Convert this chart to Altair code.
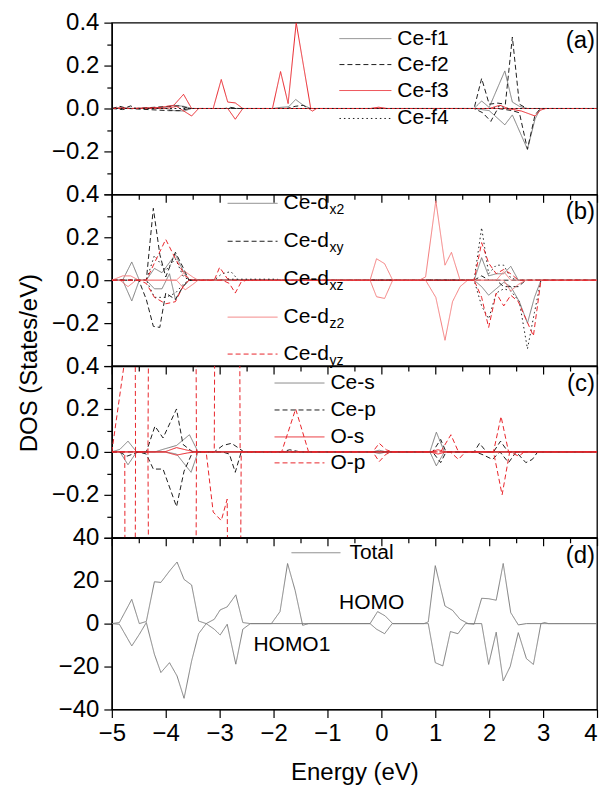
import altair as alt
import pandas as pd

FONT = "Liberation Sans"
W, H = 486, 172

# ---------------- tick values ----------------
x_ticks = [-5, -4.5, -4, -3.5, -3, -2.5, -2, -1.5, -1, -0.5, 0, 0.5, 1, 1.5, 2, 2.5, 3, 3.5, 4]
pdos_ticks = [-0.4, -0.3, -0.2, -0.1, 0.0, 0.1, 0.2, 0.3, 0.4]
total_ticks = [-40, -30, -20, -10, 0, 10, 20, 30, 40]

# ---------------- panel (a): Ce f orbitals (energy, DOS) ----------------
ce_f1_up = [(-5, 0), (-4.8, 0.003), (-4.6, 0), (-4.0, 0.005), (-3.85, 0.015), (-3.66, 0.01), (-3.52, 0),
            (-2.0, 0), (-1.88, 0.005), (-1.72, 0.008), (-1.59, 0.042), (-1.45, 0.015), (-1.31, 0),
            (1.72, 0), (1.86, 0.035), (2.0, 0.005), (2.29, 0.175), (2.43, 0.03), (2.56, 0.01), (2.7, 0), (4, 0)]
ce_f1_dn = [(-5, 0), (-4.0, 0), (-3.85, -0.01), (-3.66, -0.012), (-3.52, 0), (1.72, 0), (1.86, -0.005),
            (2.0, -0.01), (2.29, -0.076), (2.43, -0.03), (2.71, -0.19), (2.85, -0.05), (2.95, 0), (4, 0)]
ce_f2_up = [(-5, 0), (-4.85, 0.01), (-4.75, 0.003), (-4.65, 0.012), (-4.55, 0), (-3.95, 0.01), (-3.75, 0.012),
            (-3.55, 0), (-2.9, 0), (-2.8, 0.005), (-2.65, 0), (-1.75, 0), (-1.6, 0.01), (-1.45, 0.015),
            (-1.35, 0), (1.72, 0), (1.86, 0.14), (2.0, 0.02), (2.16, 0.025), (2.3, 0.02), (2.43, 0.333),
            (2.56, 0.02), (2.7, 0), (4, 0)]
ce_f2_dn = [(-5, 0), (-4.8, -0.005), (-4.7, 0), (-3.95, -0.01), (-3.75, -0.01), (-3.55, 0), (1.72, 0),
            (1.88, -0.02), (2.03, -0.06), (2.16, 0), (2.43, -0.01), (2.56, -0.02), (2.71, -0.19),
            (2.85, -0.03), (2.95, 0), (4, 0)]
ce_f3_up = [(-5, 0), (-4.85, 0.003), (-4.65, 0), (-4.1, 0.005), (-3.85, 0.015), (-3.67, 0.066), (-3.52, 0),
            (-3.12, 0), (-2.97, 0.135), (-2.85, 0.03), (-2.71, 0.026), (-2.57, 0), (-2.02, 0),
            (-1.87, 0.172), (-1.73, 0.023), (-1.58, 0.4), (-1.31, 0), (-0.2, 0), (-0.05, 0.006),
            (0.1, 0), (2.0, 0), (2.2, 0.015), (2.35, 0), (4, 0)]
ce_f3_dn = [(-5, 0), (-3.99, 0), (-3.8, 0.01), (-3.52, -0.035), (-3.39, 0), (-2.85, 0), (-2.71, -0.05),
            (-2.57, 0), (-1.35, 0), (-1.28, -0.012), (-1.2, 0), (2.3, 0), (2.45, -0.005), (2.6, -0.012),
            (2.85, -0.035), (2.95, -0.008), (3.05, 0), (4, 0)]
ce_f4_up = [(-5, 0), (2.05, 0), (2.2, 0.01), (2.35, 0), (4, 0)]
ce_f4_dn = [(-5, 0), (4, 0)]

# ---------------- panel (b): Ce d orbitals ----------------
ce_dx2_up = [(-5, 0), (-4.8, 0), (-4.63, 0.085), (-4.49, 0), (-4.36, 0), (-4.21, 0.055), (-4.07, 0.035),
             (-3.82, 0.12), (-3.68, 0.045), (-3.57, 0), (1.72, 0), (1.86, 0.105), (1.99, 0.02),
             (2.13, 0.03), (2.27, 0.03), (2.40, 0.065), (2.54, 0), (4, 0)]
ce_dx2_dn = [(-5, 0), (-4.8, 0), (-4.63, -0.097), (-4.49, 0), (-4.36, 0), (-4.21, -0.04), (-4.07, -0.04),
             (-3.93, 0.03), (-3.82, -0.09), (-3.68, -0.03), (-3.57, 0), (1.72, 0), (1.86, -0.03),
             (1.99, -0.07), (2.13, -0.04), (2.27, -0.01), (2.40, -0.03), (2.56, -0.1), (2.71, -0.2),
             (2.84, -0.08), (2.96, 0), (4, 0)]
ce_dxy_up = [(-5, 0), (-4.36, 0), (-4.23, 0.335), (-4.11, 0.12), (-4.0, 0.015), (-3.82, 0.13),
             (-3.68, 0.06), (-3.57, 0), (1.72, 0), (1.86, 0.02), (2.0, 0), (4, 0)]
ce_dxy_dn = [(-5, 0), (-4.5, 0), (-4.36, -0.09), (-4.23, -0.215), (-4.11, -0.22), (-4.0, -0.06),
             (-3.82, -0.09), (-3.68, -0.03), (-3.57, 0), (2.13, 0), (2.27, -0.03), (2.54, -0.03),
             (2.68, 0), (4, 0)]
ce_dxz_up = [(-5, 0), (-4.36, 0), (-4.21, 0.115), (-4.0, 0.045), (-3.82, 0.1), (-3.68, 0.02), (-3.57, 0),
             (-3.1, 0), (-2.96, 0.03), (-2.79, 0.04), (-2.65, 0), (1.72, 0), (1.86, 0.245), (1.99, 0.03),
             (2.13, 0.07), (2.27, 0.07), (2.40, 0.01), (2.54, 0), (4, 0)]
ce_dxz_dn = [(-5, 0), (-4.36, 0), (-4.21, -0.08), (-4.0, -0.08), (-3.82, -0.06), (-3.68, -0.02),
             (-3.57, 0), (1.72, 0), (1.86, -0.12), (1.99, -0.18), (2.13, -0.06), (2.27, -0.04),
             (2.40, -0.05), (2.56, -0.1), (2.71, -0.32), (2.84, -0.15), (2.96, 0), (4, 0)]
ce_dz2_up = [(-5, 0), (-4.8, 0.02), (-4.65, 0.02), (-4.5, 0), (-3.8, 0), (-3.64, 0.04), (-3.5, 0.015),
             (-3.4, 0), (-0.21, 0), (-0.09, 0.1), (0.06, 0.077), (0.21, 0), (0.7, 0), (0.82, 0.015),
             (1.01, 0.37), (1.18, 0.07), (1.3, 0.13), (1.46, 0), (2.13, 0), (2.27, 0.04), (2.4, 0), (4, 0)]
ce_dz2_dn = [(-5, 0), (-4.85, 0), (-4.7, -0.03), (-4.55, 0), (-3.8, 0), (-3.64, -0.045), (-3.5, -0.02),
             (-3.4, 0), (-0.21, 0), (-0.09, -0.077), (0.06, -0.085), (0.21, 0), (0.82, 0), (1.01, -0.08),
             (1.18, -0.28), (1.32, -0.1), (1.46, -0.03), (1.6, 0), (2.27, 0), (2.4, -0.05), (2.54, -0.02),
             (2.68, 0), (4, 0)]
ce_dyz_up = [(-5, 0), (-4.36, 0), (-4.21, 0.08), (-4.0, 0.19), (-3.82, 0.1), (-3.64, 0.02), (-3.5, 0),
             (-3.1, 0), (-3.0, 0.06), (-2.86, 0.008), (-2.75, 0), (1.72, 0), (1.86, 0.175), (1.99, 0.08),
             (2.13, 0.03), (2.27, 0.05), (2.40, 0.03), (2.54, 0), (4, 0)]
ce_dyz_dn = [(-5, 0), (-4.5, 0), (-4.36, -0.015), (-4.21, -0.08), (-4.0, -0.11), (-3.82, -0.1),
             (-3.68, -0.03), (-3.57, 0), (-2.95, 0), (-2.82, -0.015), (-2.71, -0.06), (-2.6, -0.008),
             (-2.5, 0), (1.72, 0), (1.86, -0.08), (1.99, -0.22), (2.13, -0.06), (2.27, -0.12),
             (2.40, -0.07), (2.54, -0.1), (2.68, -0.18), (2.82, -0.26), (2.96, 0), (4, 0)]

# ---------------- panel (c): Ce s/p, O s/p ----------------
ce_s_up = [(-5, 0), (-4.85, 0.012), (-4.70, 0.05), (-4.54, 0), (-4.2, 0), (-4.05, 0.012), (-3.8, 0.03),
           (-3.56, 0.08), (-3.4, 0), (-0.16, 0), (-0.04, 0.008), (0.09, 0), (0.9, 0), (1.02, 0.092),
           (1.17, 0), (4, 0)]
ce_s_dn = [(-5, 0), (-4.85, 0), (-4.70, -0.06), (-4.54, 0), (-4.0, 0), (-3.8, -0.01), (-3.53, -0.095),
           (-3.4, 0), (-0.16, 0), (-0.04, -0.008), (0.09, 0), (0.9, 0), (1.02, -0.065), (1.17, 0), (4, 0)]
ce_p_up = [(-5, 0), (-4.36, 0), (-4.2, 0.12), (-4.05, 0.065), (-3.8, 0.2), (-3.68, 0.035), (-3.5, 0),
           (-3.1, 0), (-2.94, 0.03), (-2.78, 0.04), (-2.66, 0.02), (-2.55, 0), (-1.85, 0), (-1.7, 0.01),
           (-1.5, 0), (0.95, 0), (1.1, 0.058), (1.2, 0), (1.72, 0), (1.82, 0.04), (1.95, 0), (2.08, 0),
           (2.21, 0.05), (2.35, 0), (4, 0)]
ce_p_dn = [(-5, 0), (-4.86, 0), (-4.72, -0.02), (-4.5, 0), (-4.36, -0.01), (-4.23, -0.08), (-4.05, -0.08),
           (-3.8, -0.255), (-3.66, -0.09), (-3.5, 0), (-2.95, 0), (-2.82, -0.01), (-2.71, -0.095),
           (-2.6, 0), (0.95, 0), (1.1, -0.05), (1.2, 0), (1.75, 0), (1.9, -0.015), (2.06, -0.035),
           (2.2, 0), (2.36, -0.05), (2.5, 0), (2.68, -0.05), (2.8, -0.035), (2.9, 0), (4, 0)]
o_s_up = [(-5, 0), (-4.02, 0), (-3.8, 0.02), (-3.6, 0.008), (-3.45, 0), (0.9, 0), (1.05, 0.01), (1.2, 0), (4, 0)]
o_s_dn = [(-5, 0), (-4.02, 0), (-3.8, -0.015), (-3.6, -0.005), (-3.45, 0), (0.9, 0), (1.05, -0.01), (1.2, 0), (4, 0)]
o_p_up = [(-5, 0), (-4.72, 0.5), (-4.63, 6), (-4.56, 0), (-4.33, 0), (-4.21, 6), (-3.52, 6), (-3.43, 0),
          (-3.1, 0), (-3.0, 6), (-2.7, 6), (-2.62, 0), (-1.85, 0), (-1.59, 0.2), (-1.35, 0), (-0.16, 0),
          (-0.04, 0.04), (0.09, 0.01), (0.2, 0), (1.1, 0), (1.29, 0.08), (1.43, 0), (2.08, 0),
          (2.22, 0.165), (2.36, 0), (4, 0)]
o_p_dn = [(-5, 0), (-4.76, 0), (-4.72, -6), (-4.63, -6), (-4.56, 0), (-4.33, 0), (-4.21, -6), (-3.52, -6),
          (-3.43, 0), (-3.25, 0), (-3.12, -0.28), (-2.97, -0.32), (-2.86, -0.22), (-2.72, -6), (-2.6, 0),
          (-0.16, 0), (-0.04, -0.045), (0.09, -0.01), (0.2, 0), (1.28, 0), (1.43, -0.035), (1.56, 0),
          (2.08, 0), (2.24, -0.2), (2.38, 0), (2.55, -0.02), (2.65, 0), (4, 0)]

# ---------------- panel (d): total DOS ----------------
total_up = [(-5, 0), (-4.86, 0.5), (-4.63, 11.3), (-4.49, 0), (-4.36, 1), (-4.21, 19.5), (-4.09, 19.2),
            (-3.93, 24.5), (-3.79, 28.7), (-3.66, 20.6), (-3.52, 18), (-3.39, 1.2), (-3.25, 0),
            (-3.1, 2), (-2.99, 6.4), (-2.86, 7.8), (-2.7, 13.4), (-2.57, 0.5), (-2.43, 0), (-2.04, 0),
            (-1.88, 5.6), (-1.74, 28), (-1.6, 15.5), (-1.46, -0.8), (-1.35, 0), (-0.21, 0), (-0.07, 5.6),
            (0.07, 3.6), (0.21, 0), (0.79, 0), (0.87, 0.8), (1.0, 27), (1.18, 8.2), (1.32, 6.2),
            (1.46, 2), (1.61, 0), (1.72, -0.3), (1.86, 11.8), (1.99, 11.6), (2.13, 10.9), (2.26, 28),
            (2.4, 5.1), (2.54, -0.6), (2.69, 0), (2.96, 0), (3.03, 0.5), (3.1, 0), (4, 0)]
total_dn = [(-5, 0), (-4.86, -0.3), (-4.63, -10.4), (-4.49, -5), (-4.36, 0.5), (-4.21, -14.3),
            (-4.09, -22.8), (-3.93, -18.2), (-3.79, -24.4), (-3.66, -34.8), (-3.52, -17.4),
            (-3.39, -4.7), (-3.25, 0), (-3.1, -2.6), (-2.99, -5.3), (-2.86, -0.3), (-2.7, -18.9),
            (-2.57, -2.6), (-2.43, 0), (-0.21, 0), (-0.09, -2.6), (0.06, -4.7), (0.2, 0), (0.87, 0),
            (1.0, -18.2), (1.14, -19.7), (1.28, -3.7), (1.42, -4.7), (1.56, 0), (1.86, 0), (1.99, -19),
            (2.13, -4), (2.26, -26.7), (2.39, -20), (2.54, -4.2), (2.69, -16.3), (2.82, -19), (2.96, 0), (4, 0)]

homo_labels = ["HOMO", "HOMO1"]
homo_x = [-0.18, -1.66]
homo_y = [9.4, -9.8]

# ---------------- styles ----------------
GRAY, BLACK, RED, PINK = "#7d7d7d", "#1e1e1e", "#e8252b", "#f37b7b"
SOLID, DASH, DOT = [1, 0], [5, 3], [1.5, 3]


def curves_df(items):
    rows = []
    for name, up, dn in items:
        for ch, pts in (("u", up), ("d", dn)):
            for e, v in pts:
                rows.append({"e": e, "v": v, "s": name, "k": name + ch})
    return pd.DataFrame(rows)


def cond(test, a, b):
    return {"condition": {"test": test, "value": a}, "value": b}


X_MAJOR = "abs(datum.value - round(datum.value)) < 0.01"
P_MAJOR = "abs(datum.value*5 - round(datum.value*5)) < 0.01"
T_MAJOR = "abs(datum.value % 20) < 0.01"


def text_layer(txt, x, y, size, align="left", angle=None):
    d = pd.DataFrame({"t": [txt]})
    kw = dict(align=align, baseline="middle", fontSize=size, font=FONT, color="black")
    if angle is not None:
        kw["angle"] = angle
    return alt.Chart(d).mark_text(**kw).encode(x=alt.value(x), y=alt.value(y), text="t:N")


def panel(items, styles, letter, legend_rows, lx1, lx2, ltx, subs=None, bottom=False,
          total=False, extra=None):
    df = curves_df(items)
    names = [s[0] for s in styles]
    colors = [s[1] for s in styles]
    dashes = [s[2] for s in styles]
    xaxis = alt.Axis(values=x_ticks, grid=False, title="Energy (eV)" if bottom else None,
                     labels=bottom, labelExpr=(f"{X_MAJOR} ? format(datum.value, 'd') : ''"),
                     tickSize=cond(X_MAJOR, 8, 5), labelFlush=False, labelOverlap=False,
                     labelAlign=cond("datum.value > 3.9", "right", "center"),
                     labelPadding=4, titlePadding=15)
    if total:
        ydom = [-40, 40]
        yexpr = f"{T_MAJOR} ? format(datum.value, 'd') : ''"
        ytk = total_ticks
        ysz = cond(T_MAJOR, 8, 5)
    else:
        ydom = [-0.4, 0.4]
        yexpr = f"({P_MAJOR}) && datum.value > -0.35 ? format(datum.value, '.1f') : ''"
        ytk = pdos_ticks
        ysz = cond(P_MAJOR, 8, 5)
    yaxis = alt.Axis(values=ytk, grid=False, labelExpr=yexpr, tickSize=ysz, labelOverlap=False,
                     labelPadding=5, title=None)
    lines = alt.Chart(df).mark_line(strokeWidth=1, clip=True).encode(
        x=alt.X("e:Q", scale=alt.Scale(domain=[-5, 4], nice=False, zero=False), axis=xaxis),
        y=alt.Y("v:Q", scale=alt.Scale(domain=ydom, nice=False, zero=False), axis=yaxis),
        color=alt.Color("s:N", scale=alt.Scale(domain=names, range=colors), legend=None),
        strokeDash=alt.StrokeDash("s:N", scale=alt.Scale(domain=names, range=dashes), legend=None),
        detail="k:N",
    )
    layers = [lines]
    for i, (st, y) in enumerate(zip(styles, legend_rows)):
        name, col, dash, label = st
        d = pd.DataFrame({"t": [label]})
        layers.append(alt.Chart(d).mark_rule(color=col, strokeDash=dash, strokeWidth=1).encode(
            x=alt.value(lx1), x2=alt.value(lx2), y=alt.value(y)))
        layers.append(text_layer(label, ltx, y, 21))
        if subs:
            layers.append(text_layer(subs[i], ltx + 46, y + 7, 14))
    layers.append(text_layer(letter, W - 2, 18, 24, align="right"))
    if extra is not None:
        layers.extend(extra)
    return alt.layer(*layers).properties(width=W, height=H)


pa = panel(
    [("f1", ce_f1_up, ce_f1_dn), ("f2", ce_f2_up, ce_f2_dn), ("f3", ce_f3_up, ce_f3_dn),
     ("f4", ce_f4_up, ce_f4_dn)],
    [("f1", GRAY, SOLID, "Ce-f1"), ("f2", BLACK, DASH, "Ce-f2"), ("f3", RED, SOLID, "Ce-f3"),
     ("f4", BLACK, DOT, "Ce-f4")],
    "(a)", [16, 42, 68, 96], 228, 280, 286)

pb = panel(
    [("dx2", ce_dx2_up, ce_dx2_dn), ("dxy", ce_dxy_up, ce_dxy_dn), ("dxz", ce_dxz_up, ce_dxz_dn),
     ("dz2", ce_dz2_up, ce_dz2_dn), ("dyz", ce_dyz_up, ce_dyz_dn)],
    [("dx2", GRAY, SOLID, "Ce-d"), ("dxy", BLACK, DASH, "Ce-d"), ("dxz", BLACK, DOT, "Ce-d"),
     ("dz2", PINK, SOLID, "Ce-d"), ("dyz", RED, DASH, "Ce-d")],
    "(b)", [9, 47, 85, 123, 160], 116, 166, 172, subs=["x2", "xy", "xz", "z2", "yz"],
    extra=[text_layer("DOS (States/eV)", -82, 169, 24, align="center", angle=270)])

pc = panel(
    [("ces", ce_s_up, ce_s_dn), ("cep", ce_p_up, ce_p_dn), ("os", o_s_up, o_s_dn), ("op", o_p_up, o_p_dn)],
    [("ces", GRAY, SOLID, "Ce-s"), ("cep", BLACK, DASH, "Ce-p"), ("os", RED, SOLID, "O-s"),
     ("op", RED, DASH, "O-p")],
    "(c)", [17, 44, 71, 97], 163, 213, 219)

homo_df = pd.DataFrame({"x": homo_x, "y": homo_y, "t": homo_labels})
homo = alt.Chart(homo_df).mark_text(fontSize=21, font=FONT, color="black", baseline="middle").encode(
    x="x:Q", y="y:Q", text="t:N")

pd_ = panel(
    [("tot", total_up, total_dn)],
    [("tot", GRAY, SOLID, "Total")],
    "(d)", [15], 180, 229, 238, bottom=True, total=True, extra=[homo])

chart = alt.vconcat(pa, pb, pc, pd_, spacing=0, bounds="flush").resolve_scale(
    color="independent", strokeDash="independent", y="independent"
).configure_view(stroke="black", strokeWidth=1.3).configure_axis(
    domainColor="black", domainWidth=1.3, tickColor="black", tickWidth=1.2,
    labelColor="black", titleColor="black", labelFont=FONT, titleFont=FONT,
    labelFontSize=24, titleFontSize=24, titleFontWeight="normal", grid=False
).properties(padding={"top": 1, "left": 9, "right": 0, "bottom": 0})

chart.save("out.html", embed_options={"renderer": "svg", "actions": False})
